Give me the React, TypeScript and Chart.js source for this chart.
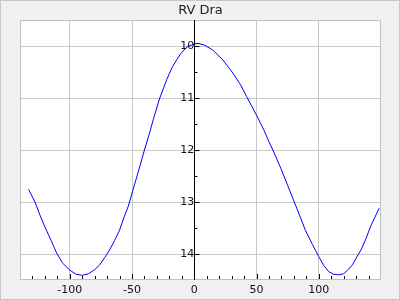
import React, { useEffect, useRef } from "react";
import { Chart, registerables } from "chart.js";

Chart.register(...registerables);

const TITLE = "RV Dra";
const phase = [
  -133, -128, -124, -120, -115, -111, -106, -100, -95, -90, -85, -80, -76, -72, -68, -64, -60, -57, -53, -50,
  -45, -40, -36, -33, -28, -22, -18, -14, -11, -6, 0, 3, 8, 15, 23, 31, 37, 42, 50, 56, 60, 65, 70, 75, 80,
  85, 89, 95, 100, 104, 108, 112, 116, 120, 124, 127, 130, 134, 138, 142, 148.5,
];
const magnitude = [
  12.76, 13.0, 13.25, 13.48, 13.74, 13.96, 14.17, 14.31, 14.39, 14.41, 14.38, 14.3, 14.21, 14.07, 13.92, 13.74,
  13.54, 13.33, 13.08, 12.83, 12.42, 12.0, 11.68, 11.42, 11.02, 10.64, 10.42, 10.26, 10.15, 10.02, 9.96, 9.95,
  9.98, 10.08, 10.27, 10.52, 10.74, 10.97, 11.33, 11.62, 11.84, 12.1, 12.38, 12.68, 12.98, 13.28, 13.53, 13.82,
  14.05, 14.22, 14.34, 14.39, 14.4, 14.38, 14.29, 14.21, 14.08, 13.92, 13.7, 13.45, 13.12,
];
const xTickLabels = [-100, -50, 0, 50, 100];
const yTickLabels = [10, 11, 12, 13, 14];
const xMin = -140;
const xMax = 150;
const yMin = 9.5;
const yMax = 14.5;

const framePlugin = {
  id: "frame",
  beforeDraw(chart: any) {
    const { ctx, width, height, chartArea } = chart;
    ctx.save();
    ctx.fillStyle = "#f0f0f0";
    ctx.fillRect(0, 0, width, height);
    ctx.strokeStyle = "#c8c8c8";
    ctx.lineWidth = 1;
    ctx.strokeRect(0.5, 0.5, width - 1, height - 1);
    ctx.fillStyle = "#ffffff";
    ctx.fillRect(chartArea.left, chartArea.top, chartArea.right - chartArea.left, chartArea.bottom - chartArea.top);
    ctx.restore();
  },
  afterDraw(chart: any) {
    const { ctx, chartArea } = chart;
    const xs = chart.scales.x;
    const ys = chart.scales.y;
    ctx.save();
    ctx.strokeStyle = "#c0c0c0";
    ctx.lineWidth = 1;
    ctx.strokeRect(
      Math.round(chartArea.left) + 0.5,
      Math.round(chartArea.top) + 0.5,
      Math.round(chartArea.right - chartArea.left) - 1,
      Math.round(chartArea.bottom - chartArea.top) - 1
    );
    ctx.strokeStyle = "#000000";
    const x0 = Math.round(xs.getPixelForValue(0)) + 0.5;
    ctx.beginPath();
    ctx.moveTo(x0, chartArea.top);
    ctx.lineTo(x0, chartArea.bottom);
    ctx.stroke();
    for (let v = 10; v <= 14.01; v += 0.5) {
      const py = Math.round(ys.getPixelForValue(v)) + 0.5;
      const len = Math.abs(v - Math.round(v)) < 0.01 ? 5 : 3;
      ctx.beginPath();
      ctx.moveTo(x0, py);
      ctx.lineTo(x0 + len, py);
      ctx.stroke();
    }
    const bottom = Math.round(chartArea.bottom) - 1;
    for (let v = -130; v <= 140; v += 10) {
      const px = Math.round(xs.getPixelForValue(v)) + 0.5;
      const len = v % 50 === 0 ? 5 : 3;
      ctx.beginPath();
      ctx.moveTo(px, bottom);
      ctx.lineTo(px, bottom - len);
      ctx.stroke();
    }
    ctx.restore();
  },
};

export default function App() {
  const ref = useRef<HTMLCanvasElement>(null);
  useEffect(() => {
    document.body.style.margin = "0";
    const chart = new Chart(ref.current as HTMLCanvasElement, {
      type: "line",
      data: {
        datasets: [
          {
            data: phase.map((p, i) => ({ x: p, y: magnitude[i] })),
            borderColor: "#0000ff",
            borderWidth: 1,
            pointRadius: 0,
            tension: 0,
            fill: false,
          },
        ],
      },
      options: {
        responsive: false,
        animation: false,
        layout: { padding: { left: 20, right: 19, top: 0, bottom: 0 } },
        plugins: {
          legend: { display: false },
          tooltip: { enabled: false },
          title: {
            display: true,
            text: TITLE,
            color: "#222222",
            font: { family: "DejaVu Sans", size: 13, weight: "normal", lineHeight: "14px" } as any,
            padding: { top: 4, bottom: 2 },
          },
        },
        scales: {
          x: {
            type: "linear",
            min: xMin,
            max: xMax,
            position: "bottom",
            afterFit(scale: any) {
              scale.height = 20;
            },
            afterBuildTicks(scale: any) {
              scale.ticks = xTickLabels.map((v) => ({ value: v }));
            },
            border: { display: false },
            grid: { color: "#c8c8c8", drawTicks: false, lineWidth: 1 },
            ticks: {
              padding: 4,
              color: "#111111",
              font: { family: "DejaVu Sans", size: 11 },
              maxRotation: 0,
              autoSkip: false,
            },
          },
          y: {
            type: "linear",
            min: yMin,
            max: yMax,
            reverse: true,
            position: { x: 0 } as any,
            afterBuildTicks(scale: any) {
              scale.ticks = yTickLabels.map((v) => ({ value: v }));
            },
            border: { display: false },
            grid: { color: "#c8c8c8", drawTicks: false, lineWidth: 1 },
            ticks: {
              padding: 8,
              color: "#111111",
              font: { family: "DejaVu Sans", size: 11 },
              autoSkip: false,
            },
          },
        },
      },
      plugins: [framePlugin],
    });
    return () => chart.destroy();
  }, []);
  return (
    <div style={{ position: "absolute", left: 0, top: 0, width: 400, height: 300 }}>
      <canvas ref={ref} width={400} height={300} />
    </div>
  );
}
